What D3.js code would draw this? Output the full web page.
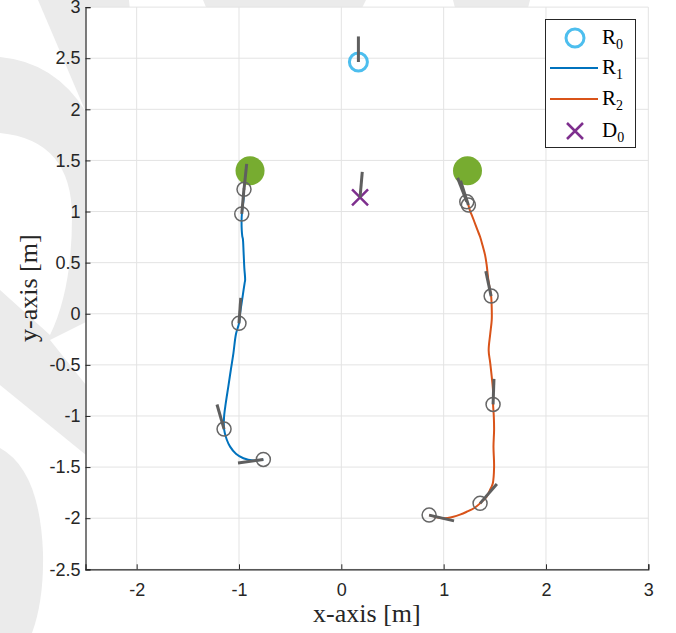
<!DOCTYPE html>
<html>
<head>
<meta charset="utf-8">
<script src="https://cdn.jsdelivr.net/npm/d3@7"></script>
<style>
  body { margin: 0; background: #fff; }
  svg { display: block; }
</style>
</head>
<body>
<svg></svg>
<script>
// tick values
const xTicks = [-2, -1, 0, 1, 2, 3];
const yTicks = [-2.5, -2, -1.5, -1, -0.5, 0, 0.5, 1, 1.5, 2, 2.5, 3];

// trajectory of R1 (blue)
const r1X = [-0.951, -0.955, -0.970, -0.975, -0.968, -0.962, -0.955, -0.948, -0.940, -0.945, -0.960, -0.975, -0.990, -1.000, -1.030, -1.055, -1.080, -1.104, -1.130, -1.146, -1.146, -1.120, -1.087, -1.030, -0.957, -0.860, -0.762];
const r1Y = [1.217, 1.120, 1.000, 0.900, 0.760, 0.732, 0.600, 0.450, 0.330, 0.300, 0.200, 0.100, 0.000, -0.094, -0.200, -0.390, -0.550, -0.710, -0.880, -1.010, -1.128, -1.230, -1.300, -1.370, -1.414, -1.435, -1.425];

// trajectory of R2 (orange)
const r2X = [1.242, 1.260, 1.275, 1.300, 1.330, 1.356, 1.380, 1.405, 1.420, 1.437, 1.450, 1.464, 1.470, 1.470, 1.455, 1.440, 1.455, 1.470, 1.483, 1.483, 1.490, 1.493, 1.487, 1.493, 1.480, 1.450, 1.420, 1.356, 1.300, 1.226, 1.160, 1.095, 0.998, 0.933, 0.858];
const r2Y = [1.063, 1.000, 0.966, 0.900, 0.820, 0.753, 0.670, 0.574, 0.480, 0.330, 0.250, 0.173, 0.050, -0.060, -0.200, -0.360, -0.480, -0.616, -0.760, -0.887, -1.000, -1.138, -1.300, -1.497, -1.660, -1.730, -1.790, -1.855, -1.900, -1.937, -1.965, -1.985, -2.000, -1.990, -1.970];

// sampled poses (gray circles) with heading in degrees
const poseX = [-0.951, -0.973, -1.000, -1.146, -0.762, 1.226, 1.242, 1.464, 1.483, 1.356, 0.858];
const poseY = [1.217, 0.976, -0.094, -1.128, -1.425, 1.096, 1.063, 0.173, -0.887, -1.855, -1.970];
const poseHeading = [84, 85, 86, 106, 188, 111, 108, 102, 88, 49, -13];

// goals (green)
const goalX = [-0.892, 1.233];
const goalY = [1.40, 1.40];

// R0 and D0
const r0 = { x: 0.167, y: 2.463, heading: 90 };
const d0 = { x: 0.183, y: 1.139, heading: 85 };

const legendLabels = ["R", "R", "R", "D"];
const legendSubs = ["0", "1", "2", "0"];

const width = 676;
const height = 633;
const headLen = 0.25;

const svg = d3.select("svg")
  .attr("width", width)
  .attr("height", height);

const x = d3.scaleLinear().domain([-2.5, 3]).range([85.5, 648.3]);
const y = d3.scaleLinear().domain([-2.5, 3]).range([569.3, 7.1]);

// background watermark
const wm = svg.append("g").attr("fill", "#ebebeb");
wm.append("path").attr("d", "M38,0 L129,0 L140,120 L85,110 Z");
wm.append("path").attr("d", "M203,0 L366,0 L360,12 L208,12 Z");
wm.append("path").attr("d", "M453,0 L530,0 L527,12 L456,12 Z");
wm.append("path")
  .attr("fill-rule", "evenodd")
  .attr("d", "M0,57 Q55,62 86,112 L86,322 L50,340 L86,385 L86,455 L0,385 Z M0,133 Q72,140 72,217 Q72,290 50,335 L0,290 Z");
wm.append("path").attr("d", "M0,448 Q40,470 43,553 Q44,600 32,633 L0,633 Z");

// plot background
svg.append("rect")
  .attr("x", x(-2.5)).attr("y", y(3))
  .attr("width", x(3) - x(-2.5)).attr("height", y(-2.5) - y(3))
  .attr("fill", "#fff");

// grid
const grid = svg.append("g").attr("stroke", "#e3e3e3").attr("stroke-width", 1);
grid.selectAll(".gx").data(xTicks).enter().append("line")
  .attr("x1", d => x(d)).attr("x2", d => x(d))
  .attr("y1", y(3)).attr("y2", y(-2.5));
grid.selectAll(".gy").data(yTicks).enter().append("line")
  .attr("x1", x(-2.5)).attr("x2", x(3))
  .attr("y1", d => y(d)).attr("y2", d => y(d));

// axes
const xAxis = svg.append("g")
  .attr("transform", "translate(0," + y(-2.5) + ")")
  .call(d3.axisBottom(x).tickValues(xTicks).tickSize(-5).tickPadding(14).tickFormat(d => String(d)));
const yAxis = svg.append("g")
  .attr("transform", "translate(" + x(-2.5) + ",0)")
  .call(d3.axisLeft(y).tickValues(yTicks).tickSize(-5).tickPadding(5).tickFormat(d => String(d)));
[xAxis, yAxis].forEach(a => {
  a.select(".domain").attr("stroke", "#262626").attr("stroke-width", 1.2);
  a.selectAll(".tick line").attr("stroke", "#262626");
  a.selectAll("text")
    .attr("fill", "#262626")
    .style("font-family", "'Liberation Sans', Arial, sans-serif")
    .style("font-size", "18px");
});

// goals
svg.selectAll(".goal").data(goalX).enter().append("circle")
  .attr("cx", d => x(d)).attr("cy", (d, i) => y(goalY[i]))
  .attr("r", 14.5).attr("fill", "#77AC30");

// trajectories
const line = d3.line().x(d => x(d[0])).y(d => y(d[1])).curve(d3.curveCatmullRom);
svg.append("path")
  .datum(d3.zip(r1X, r1Y))
  .attr("d", line).attr("fill", "none")
  .attr("stroke", "#0072BD").attr("stroke-width", 2);
svg.append("path")
  .datum(d3.zip(r2X, r2Y))
  .attr("d", line).attr("fill", "none")
  .attr("stroke", "#D95319").attr("stroke-width", 2);

// poses
function headEnd(px, py, deg) {
  const a = deg * Math.PI / 180;
  return [px + headLen * Math.cos(a), py + headLen * Math.sin(a)];
}
svg.selectAll(".pose").data(poseX).enter().append("circle")
  .attr("cx", d => x(d)).attr("cy", (d, i) => y(poseY[i]))
  .attr("r", 7).attr("fill", "none")
  .attr("stroke", "#666").attr("stroke-width", 1.5);
svg.selectAll(".head").data(poseX).enter().append("line")
  .attr("x1", d => x(d)).attr("y1", (d, i) => y(poseY[i]))
  .attr("x2", (d, i) => x(headEnd(d, poseY[i], poseHeading[i])[0]))
  .attr("y2", (d, i) => y(headEnd(d, poseY[i], poseHeading[i])[1]))
  .attr("stroke", "#5f5f5f").attr("stroke-width", 3);

// R0
svg.append("circle")
  .attr("cx", x(r0.x)).attr("cy", y(r0.y)).attr("r", 9)
  .attr("fill", "none").attr("stroke", "#4DBEEE").attr("stroke-width", 3);
const r0End = headEnd(r0.x, r0.y, r0.heading);
svg.append("line")
  .attr("x1", x(r0.x)).attr("y1", y(r0.y))
  .attr("x2", x(r0End[0])).attr("y2", y(r0End[1]))
  .attr("stroke", "#5f5f5f").attr("stroke-width", 3);

// D0
const xs = 8;
svg.append("path")
  .attr("d", `M${x(d0.x) - xs},${y(d0.y) - xs}L${x(d0.x) + xs},${y(d0.y) + xs}M${x(d0.x) - xs},${y(d0.y) + xs}L${x(d0.x) + xs},${y(d0.y) - xs}`)
  .attr("stroke", "#7E2F8E").attr("stroke-width", 2.5);
const d0End = headEnd(d0.x, d0.y, d0.heading);
svg.append("line")
  .attr("x1", x(d0.x)).attr("y1", y(d0.y))
  .attr("x2", x(d0End[0])).attr("y2", y(d0End[1]))
  .attr("stroke", "#5f5f5f").attr("stroke-width", 3);

// axis labels
const serif = "'Liberation Serif', 'DejaVu Serif', serif";
svg.append("text")
  .attr("x", (x(-2.5) + x(3)) / 2).attr("y", 622)
  .attr("text-anchor", "middle")
  .style("font-family", serif).style("font-size", "26px").attr("fill", "#262626")
  .text("x-axis [m]");
svg.append("text")
  .attr("transform", "translate(37," + (y(-2.5) + y(3)) / 2 + ") rotate(-90)")
  .attr("text-anchor", "middle")
  .style("font-family", serif).style("font-size", "26px").attr("fill", "#262626")
  .text("y-axis [m]");

// legend
const lg = svg.append("g");
lg.append("rect")
  .attr("x", 545.5).attr("y", 19.5).attr("width", 90).attr("height", 128)
  .attr("fill", "#fff").attr("stroke", "#262626").attr("stroke-width", 1);
const rowY = [38, 68, 99, 131];
lg.append("circle").attr("cx", 575).attr("cy", rowY[0]).attr("r", 9)
  .attr("fill", "none").attr("stroke", "#4DBEEE").attr("stroke-width", 3);
lg.append("line").attr("x1", 550).attr("x2", 598).attr("y1", rowY[1]).attr("y2", rowY[1])
  .attr("stroke", "#0072BD").attr("stroke-width", 2);
lg.append("line").attr("x1", 550).attr("x2", 598).attr("y1", rowY[2]).attr("y2", rowY[2])
  .attr("stroke", "#D95319").attr("stroke-width", 2);
lg.append("path")
  .attr("d", `M${575 - xs},${rowY[3] - xs}L${575 + xs},${rowY[3] + xs}M${575 - xs},${rowY[3] + xs}L${575 + xs},${rowY[3] - xs}`)
  .attr("stroke", "#7E2F8E").attr("stroke-width", 2.5);
legendLabels.forEach((lab, i) => {
  const t = lg.append("text")
    .attr("x", 602).attr("y", rowY[i] + 6)
    .style("font-family", serif).style("font-size", "21px").attr("fill", "#000")
    .text(lab);
  t.append("tspan").attr("dy", 5).style("font-size", "14px").text(legendSubs[i]);
});
</script>
</body>
</html>
